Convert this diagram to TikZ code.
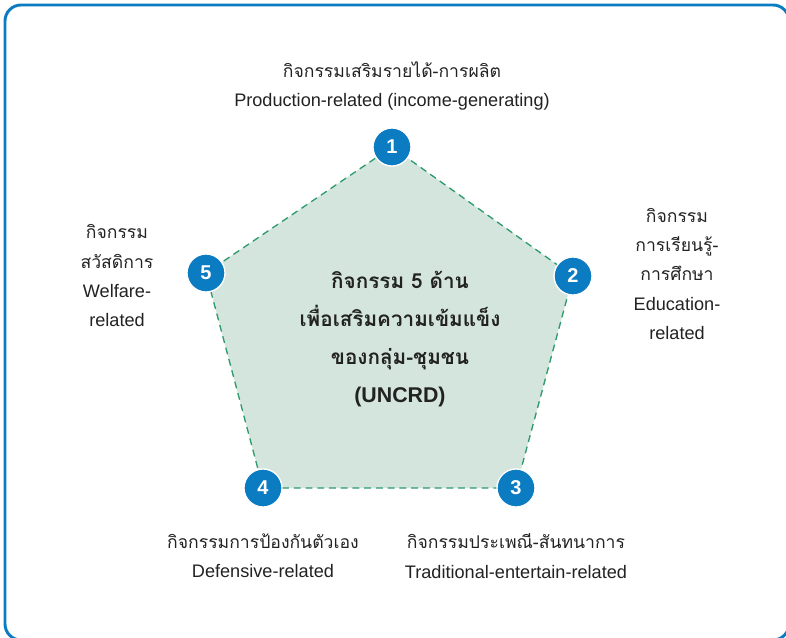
\documentclass[tikz,border=0pt]{standalone}
\usepackage{fontspec}
\setmainfont{Liberation Sans}
\newfontfamily\thaifont[Script=Thai, Scale=0.97]{Loma}
\definecolor{frameblue}{HTML}{0B7BC2}
\definecolor{padfill}{HTML}{D4E5DE}
\definecolor{dashgreen}{HTML}{2E9B6C}
\definecolor{inkgray}{HTML}{222222}
\tikzset{
  numdot/.style={circle, fill=frameblue, draw=white, line width=1pt, minimum size=38pt*0.75,
    inner sep=0pt, text=white, font=\bfseries\fontsize{15}{15}\selectfont},
  sidelabel/.style={align=center, text=inkgray, font=\fontsize{13.6}{22}\selectfont},
}
\begin{document}
\begin{tikzpicture}[x=0.75pt, y=-0.75pt]
    \useasboundingbox (0,0) rectangle (786,638);
    \clip (0,0) rectangle (786,638);
    \draw[frameblue, line width=2.2pt, rounded corners=12pt] (5,5) rectangle (789,640);

    % corners of the pentagon
    \coordinate (p1) at (392,147);
    \coordinate (p2) at (573,276);
    \coordinate (p3) at (516,488);
    \coordinate (p4) at (263,488);
    \coordinate (p5) at (206,273);

    \filldraw[fill=padfill, draw=dashgreen, line width=1pt, dash pattern=on 5.2pt off 3.6pt]
        (p1) -- (p2) -- (p3) -- (p4) -- (p5) -- cycle;

    \node[numdot] (n1) at (p1) {1};
    \node[numdot] (n2) at (p2) {2};
    \node[numdot] (n3) at (p3) {3};
    \node[numdot] (n4) at (p4) {4};
    \node[numdot] (n5) at (p5) {5};

    \node[align=center, text=inkgray, font=\bfseries\fontsize{16}{28.5}\selectfont] (hub) at (400,339)
        {{\thaifont กิจกรรม 5 ด้าน}\\ {\thaifont เพื่อเสริมความเข้มแข็ง}\\ {\thaifont ของกลุ่ม-ชุมชน}\\ (UNCRD)};

    \node[sidelabel] (t1) at (392,86) {{\thaifont กิจกรรมเสริมรายได้-การผลิต}\\ Production-related (income-generating)};
    \node[sidelabel] (t2) at (677,274) {{\thaifont กิจกรรม}\\ {\thaifont การเรียนรู้-}\\ {\thaifont การศึกษา}\\ Education-\\ related};
    \node[sidelabel] (t3) at (516,556) {{\thaifont กิจกรรมประเพณี-สันทนาการ}\\ Traditional-entertain-related};
    \node[sidelabel] (t4) at (263,556) {{\thaifont กิจกรรมการป้องกันตัวเอง}\\ Defensive-related};
    \node[sidelabel] (t5) at (117,276) {{\thaifont กิจกรรม}\\ {\thaifont สวัสดิการ}\\ Welfare-\\ related};
\end{tikzpicture}
\end{document}
